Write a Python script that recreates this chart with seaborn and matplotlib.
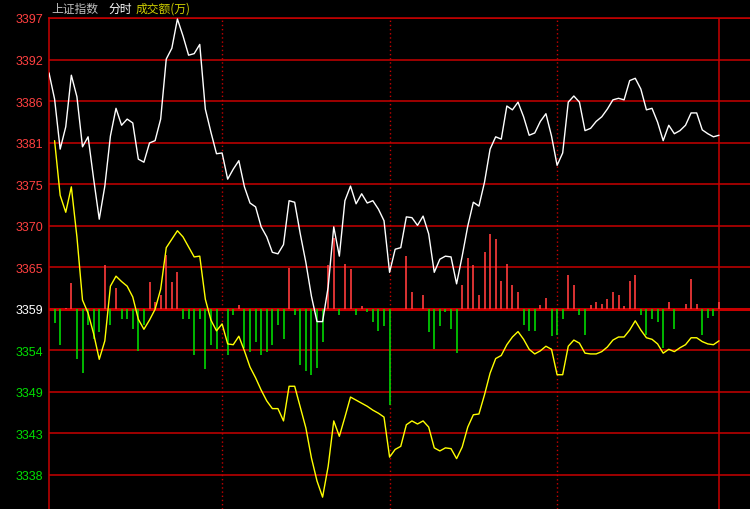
"""
Shanghai Composite intraday chart (上证指数 分时) on a black terminal-style background.
"""

import matplotlib
matplotlib.use("Agg")
import matplotlib.pyplot as plt
import pandas as pd
import seaborn as sns

# minute slots of the session (0 = open, 240 = close), sampled every 2 minutes
slots = list(range(0, 241, 2))
index_price = [
    3389.9, 3386.5, 3380.0, 3382.9, 3389.6, 3386.8, 3380.3, 3381.6, 3376.1, 3370.9,
    3375.2, 3381.7, 3385.3, 3383.1, 3383.9, 3383.4, 3378.7, 3378.3, 3380.8, 3381.1,
    3383.9, 3391.7, 3393.1, 3396.9, 3394.7, 3392.2, 3392.4, 3393.6, 3385.2, 3382.2,
    3379.4, 3379.5, 3376.1, 3377.4, 3378.5, 3375.1, 3373.0, 3372.5, 3369.9, 3368.6,
    3366.6, 3366.4, 3367.6, 3373.3, 3373.1, 3369.0, 3365.3, 3360.9, 3357.6, 3357.6,
    3362.1, 3369.9, 3366.1, 3373.3, 3375.2, 3372.9, 3374.2, 3373.0, 3373.3, 3372.2,
    3370.7, 3364.0, 3367.0, 3367.2, 3371.2, 3371.1, 3370.1, 3371.3, 3369.0, 3364.0,
    3365.7, 3366.1, 3366.0, 3362.5, 3366.1, 3370.0, 3373.1, 3372.6, 3375.7, 3380.0,
    3381.6, 3381.3, 3385.6, 3385.1, 3386.1, 3384.2, 3381.8, 3382.1, 3383.6, 3384.6,
    3381.7, 3377.9, 3379.5, 3386.1, 3386.9, 3386.1, 3382.4, 3382.7, 3383.6, 3384.2,
    3385.2, 3386.4, 3386.6, 3386.4, 3388.9, 3389.2, 3387.8, 3385.1, 3385.3, 3383.5,
    3381.1, 3383.1, 3382.0, 3382.4, 3383.1, 3384.7, 3384.7, 3382.5, 3382.0, 3381.6,
    3381.8,
]

# yellow line and red/green bars start at the second sample
lead_slots = list(range(2, 241, 2))
lead_line = [
    3381.1, 3374.0, 3371.8, 3375.1, 3368.6, 3360.4, 3358.7, 3356.0, 3352.7, 3355.1,
    3362.2, 3363.5, 3362.8, 3362.2, 3360.8, 3357.9, 3356.6, 3357.8, 3359.2, 3361.8,
    3367.2, 3368.3, 3369.4, 3368.6, 3367.3, 3366.0, 3366.1, 3360.5, 3357.8, 3356.4,
    3357.3, 3354.7, 3354.6, 3355.7, 3353.8, 3351.7, 3350.3, 3348.7, 3347.3, 3346.3,
    3346.3, 3344.7, 3349.2, 3349.2, 3346.5, 3343.8, 3339.9, 3336.9, 3334.8, 3338.8,
    3344.7, 3342.7, 3345.2, 3347.8, 3347.4, 3347.0, 3346.6, 3346.1, 3345.7, 3345.2,
    3340.0, 3341.0, 3341.4, 3344.2, 3344.7, 3344.3, 3344.7, 3343.9, 3341.2, 3340.8,
    3341.2, 3341.1, 3339.8, 3341.3, 3343.9, 3345.5, 3345.6, 3348.1, 3350.9, 3352.8,
    3353.2, 3354.6, 3355.6, 3356.3, 3355.3, 3354.0, 3353.4, 3353.8, 3354.4, 3354.0,
    3350.7, 3350.7, 3354.4, 3355.2, 3354.8, 3353.5, 3353.4, 3353.4, 3353.7, 3354.3,
    3355.2, 3355.6, 3355.6, 3356.5, 3357.7, 3356.5, 3355.5, 3355.3, 3354.7, 3353.5,
    3354.0, 3353.7, 3354.2, 3354.6, 3355.5, 3355.5, 3355.0, 3354.7, 3354.6, 3355.1,
]
power_bars = [
    -1.9, -4.8, 0.1, 3.3, -6.5, -8.4, -2.2, -4.0, -3.1, 5.7,
    -2.2, 2.6, -1.4, -1.4, -2.7, -5.5, -2.1, 3.5, 0.8, 1.7,
    7.0, 3.4, 4.8, -1.4, -1.3, -6.1, -1.4, -7.9, -4.7, -5.2,
    0.0, -6.1, -0.9, 0.4, -5.1, -5.6, -4.4, -6.0, -5.7, -4.8,
    -2.2, -3.9, 5.2, -0.8, -7.3, -8.1, -8.7, -7.7, -4.3, 5.7,
    9.1, -0.9, 5.8, 5.1, -0.9, 0.3, -0.5, -1.7, -2.9, -2.3,
    -12.5, -0.1, -0.1, 6.8, 2.1, 0.0, 1.8, -3.0, -5.3, -2.3,
    -0.4, -2.6, -5.8, 3.1, 6.5, 5.7, 1.8, 7.4, 9.7, 9.0,
    3.6, 5.8, 3.1, 2.2, -2.2, -2.9, -2.9, 0.4, 1.3, -3.6,
    -3.4, -1.4, 4.3, 3.1, -0.8, -3.4, 0.4, 0.9, 0.6, 1.2,
    2.1, 1.8, 0.3, 3.6, 4.3, -0.9, -3.5, -1.3, -1.8, -5.1,
    0.9, -2.6, 0.0, 0.6, 3.8, 0.6, -3.4, -1.2, -1.0, 0.8,
]

pre_close = 3359.3
tick_step = 5.39
tick_labels = ["3397", "3392", "3386", "3381", "3375", "3370",
               "3365", "3359", "3354", "3349", "3343", "3338"]

GRID_RED = "#c80000"
UP_RED = "#ff3c3c"
DOWN_GREEN = "#00d800"

sns.set_style("dark", {
    "axes.facecolor": "black",
    "figure.facecolor": "black",
    "axes.edgecolor": GRID_RED,
    "axes.grid": False,
})
plt.rcParams["font.family"] = ["Liberation Sans", "Noto Sans CJK SC", "DejaVu Sans"]

W, H = 750, 510
fig = plt.figure(figsize=(7.5, 5.1), dpi=100, facecolor="black")
ax = fig.add_axes([49 / W, 0, 701 / W, 491 / H])
ax.set_facecolor("black")

# price grid
tick_vals = [pre_close + tick_step * k for k in range(7, -5, -1)]
for k, v in zip(range(7, -5, -1), tick_vals):
    ax.axhline(v, color=GRID_RED, lw=2.2 if k == 0 else 1.1, zorder=1)

# session separators
for x in (62.1, 122, 182.1):
    ax.axvline(x, color=GRID_RED, lw=1.0, ls=(0, (1, 2)), zorder=1)
ax.axvline(240, color=GRID_RED, lw=1.1, zorder=1)

# red / green bars around the previous close
bar_tops = [pre_close + b for b in power_bars]
bar_colors = [UP_RED if b > 0 else DOWN_GREEN for b in power_bars]
ax.vlines(lead_slots, pre_close, bar_tops, colors=bar_colors, lw=1.2, zorder=2)

price_df = pd.DataFrame({"slot": slots, "price": index_price})
lead_df = pd.DataFrame({"slot": lead_slots, "price": lead_line})
sns.lineplot(data=lead_df, x="slot", y="price", color="#ffff00", lw=1.0,
             ax=ax, zorder=4, legend=False)
sns.lineplot(data=price_df, x="slot", y="price", color="white", lw=1.0,
             ax=ax, zorder=5, legend=False)

ax.set_xlim(0, 251.1)
ax.set_ylim(3333.26, pre_close + tick_step * 7)
ax.set_xlabel("")
ax.set_ylabel("")
ax.set_xticks([])
ax.set_yticks(tick_vals)
ax.set_yticklabels(tick_labels)
ax.tick_params(axis="y", length=0, pad=4, labelsize=9)
for k, lbl in zip(range(7, -5, -1), ax.get_yticklabels()):
    lbl.set_color("#ff4040" if k > 0 else ("white" if k == 0 else "#00e000"))

for side in ("right", "bottom"):
    ax.spines[side].set_visible(False)
for side in ("left", "top"):
    ax.spines[side].set_color(GRID_RED)
    ax.spines[side].set_linewidth(1.1)

# header
cjk = ["Noto Sans CJK SC", "DejaVu Sans"]
ty = 1 - 9.5 / H
fig.text(51 / W, ty, "上证指数", color="#c0c0c0", fontsize=8.5, family=cjk, va="center")
fig.text(108 / W, ty, "分时", color="white", fontsize=8.5, family=cjk, va="center")
fig.text(136 / W, ty, "成交额(万)", color="#d0d000", fontsize=8.5, family=cjk, va="center")

fig.savefig("out.png", dpi=100, facecolor="black")
plt.close(fig)
